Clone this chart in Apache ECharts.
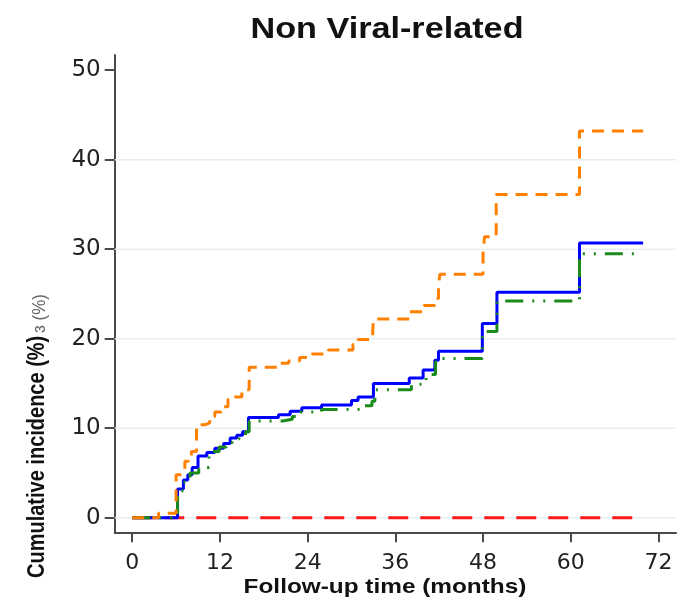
<!DOCTYPE html>
<html>
<head>
<meta charset="utf-8">
<script src="https://cdn.jsdelivr.net/npm/echarts@6/dist/echarts.min.js"></script>
<style>
html,body{margin:0;padding:0;background:#fff;}
#chart{width:679px;height:606px;}
</style>
</head>
<body>
<div id="chart"></div>
<script>
// ---- data (months, cumulative incidence %) ----
const blueTimes  = [0, 6.2, 7.0, 7.6, 8.2, 9.0, 10.2, 11.3, 12.5, 13.4, 14.3, 15.1, 15.9, 20.0, 21.6, 23.2, 25.9, 30.0, 30.9, 33.0, 37.9, 39.8, 41.4, 41.9, 47.9, 49.9, 61.2, 69.9];
const blueValues = [0, 3.2, 4.2, 4.8, 5.6, 6.9, 7.3, 7.75, 8.3, 8.9, 9.2, 9.6, 11.2, 11.5, 11.9, 12.3, 12.6, 13.1, 13.5, 15.0, 15.6, 16.5, 17.6, 18.6, 21.7, 25.2, 30.7, 30.7];

const greenTimes  = [0, 6.2, 7.0, 7.9, 9.1, 10.5, 11.9, 12.9, 13.7, 14.6, 15.5, 16.0, 20.6, 21.9, 23.0, 25.9, 31.5, 32.8, 33.2, 38.2, 40.2, 41.5, 42.0, 47.9, 49.9, 61.2, 69.2];
const greenValues = [0, 3.0, 4.0, 5.0, 5.6, 7.4, 7.9, 8.4, 8.8, 9.2, 9.6, 10.8, 11.0, 11.3, 11.8, 12.1, 12.5, 13.0, 14.3, 14.9, 16.0, 17.4, 17.8, 20.8, 24.2, 29.5, 29.5];

const orangeTimes  = [0, 3.6, 6.0, 6.5, 7.2, 7.7, 8.1, 8.8, 10.0, 10.6, 11.3, 12.2, 13.1, 13.8, 15.0, 16.0, 20.2, 21.4, 22.9, 24.6, 26.8, 30.2, 30.9, 32.9, 33.0, 38.0, 39.9, 41.4, 41.9, 42.1, 48.0, 48.2, 49.8, 61.2, 69.9];
const orangeValues = [0, 0.5, 4.8, 5.0, 6.3, 6.8, 7.4, 10.4, 10.6, 11.3, 11.8, 12.4, 13.2, 13.5, 14.3, 16.8, 17.25, 17.5, 17.9, 18.3, 18.75, 19.35, 19.9, 20.8, 22.2, 23.0, 23.7, 24.5, 26.0, 27.2, 29.5, 31.4, 36.1, 43.2, 43.2];

const redTimes  = [0, 68.5];
const redValues = [0, 0];

const xTickValues = [0, 12, 24, 36, 48, 60, 72];
const yTickValues = [0, 10, 20, 30, 40, 50];
const gridValues  = [0, 10, 20, 30, 40];

const titleText = 'Non Viral-related';
const xTitle = 'Follow-up time (months)';
const yTitle = 'Cumulative incidence (%)';
const yGhost = 'ɜ (%)';

const X_MIN = -2.4, X_MAX = 74.4, Y_MIN = -1.63, Y_MAX = 51.7;

function pairs(t, v) { return t.map((x, i) => [x, v[i]]); }

const chart = echarts.init(document.getElementById('chart'), null, {renderer: 'canvas'});
const axisCol = '#4a4a4a';
const fontFam = '"Liberation Sans", Arial, sans-serif';
const tickFont = '"DejaVu Sans", "Liberation Sans", sans-serif';

const gridSeries = gridValues.map(v => ({
  name: 'grid' + v, type: 'line', silent: true, z: 1, showSymbol: false,
  data: [[X_MIN, v], [X_MAX, v]],
  lineStyle: {color: '#e8eff1', width: 1.5, type: 'solid'}
}));

chart.setOption({
  animation: false,
  backgroundColor: '#ffffff',
  grid: {left: 114.7, right: 3, top: 55, bottom: 73.7, containLabel: false},
  xAxis: {
    type: 'value', min: X_MIN, max: X_MAX,
    axisLine: {show: true, onZero: false, lineStyle: {color: axisCol, width: 2}},
    axisTick: {show: true, length: 10, customValues: xTickValues, lineStyle: {color: axisCol, width: 2}},
    axisLabel: {customValues: xTickValues, fontFamily: tickFont, fontSize: 22, color: '#222', margin: 20},
    splitLine: {show: false}
  },
  yAxis: {
    type: 'value', min: Y_MIN, max: Y_MAX,
    axisLine: {show: true, onZero: false, lineStyle: {color: axisCol, width: 2}},
    axisTick: {show: true, length: 10, customValues: yTickValues, lineStyle: {color: axisCol, width: 2}},
    axisLabel: {customValues: yTickValues, fontFamily: tickFont, fontSize: 23, color: '#222', margin: 14},
    splitLine: {show: false}
  },
  graphic: [
    {type: 'text', x: 387, y: 30, scaleX: 1.14, style: {text: titleText, font: 'bold 30px ' + fontFam, fill: '#111', align: 'center', verticalAlign: 'middle'}},
    {type: 'text', x: 385, y: 587, scaleX: 1.16, style: {text: xTitle, font: 'bold 21px ' + fontFam, fill: '#111', align: 'center', verticalAlign: 'middle'}},
    {type: 'text', x: 38, y: 578, rotation: Math.PI / 2, scaleY: 1.15, style: {text: yTitle, font: 'bold 20px ' + fontFam, fill: '#111', align: 'left', verticalAlign: 'middle'}},
    {type: 'text', x: 40, y: 333, rotation: Math.PI / 2, scaleY: 1.1, style: {text: yGhost, font: '17px ' + fontFam, fill: '#666', align: 'left', verticalAlign: 'middle'}}
  ],
  series: gridSeries.concat([
    {
      name: 'red', type: 'line', step: 'end', showSymbol: false, z: 2,
      data: pairs(redTimes, redValues),
      lineStyle: {color: '#ff1a1a', width: 3, type: [20, 12]}
    },
    {
      name: 'blue', type: 'line', step: 'end', showSymbol: false, z: 3,
      data: pairs(blueTimes, blueValues),
      lineStyle: {color: '#0000ff', width: 3, type: 'solid'}
    },
    {
      name: 'green', type: 'line', step: 'end', showSymbol: false, z: 4,
      data: pairs(greenTimes, greenValues),
      lineStyle: {color: '#1a8a1a', width: 3, type: [18, 9, 2, 9, 2, 9]}
    },
    {
      name: 'orange', type: 'line', step: 'end', showSymbol: false, z: 5,
      data: pairs(orangeTimes, orangeValues),
      lineStyle: {color: '#ff8000', width: 3, type: [12, 8]}
    }
  ])
});
</script>
</body>
</html>
